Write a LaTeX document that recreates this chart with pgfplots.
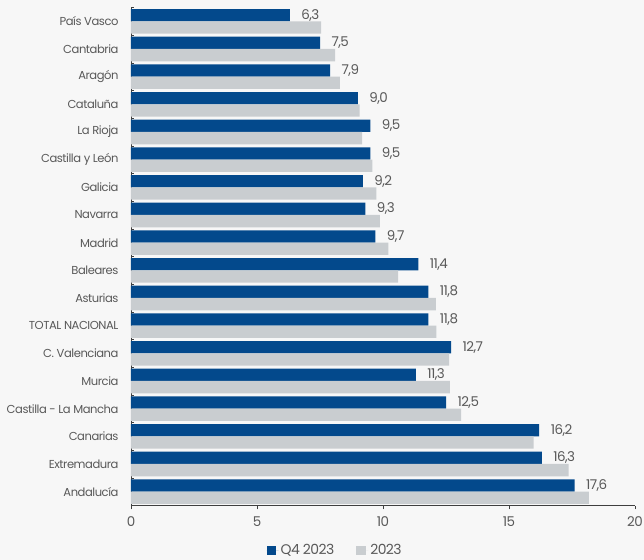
\documentclass[border=0pt]{standalone}
\usepackage{pgfplots}
\usepackage{pgfplotstable}
\pgfplotsset{compat=1.18}
\usepackage{fontspec}
\setmainfont{Poppins}[LetterSpace=-4]
\definecolor{bgc}{HTML}{F7F7F7}
\definecolor{q4}{HTML}{03498C}
\definecolor{yr}{HTML}{C9CDD0}
\definecolor{txt}{HTML}{595959}
\definecolor{axc}{HTML}{3F3F3F}

% idx 0 = bottom (Andalucia), 17 = top (Pais Vasco)
\pgfplotstableread{
idx q4   y23
0   17.6 18.17
1   16.3 17.37
2   16.2 15.98
3   12.5 13.10
4   11.3 12.65
5   12.7 12.62
6   11.8 12.12
7   11.8 12.10
8   11.4 10.60
9   9.7  10.21
10  9.3  9.88
11  9.2  9.74
12  9.5  9.58
13  9.5  9.17
14  9.0  9.07
15  7.9  8.29
16  7.5  8.10
17  6.3  7.54
}\datatable

\begin{document}
\begin{tikzpicture}
\fill[bgc] (-131bp,-54.5bp) rectangle (513bp,505.5bp);
\path[use as bounding box] (-131bp,-54.5bp) rectangle (513bp,505.5bp);
\begin{axis}[
  at={(0,0)}, anchor=south west,
  scale only axis, width=504bp, height=498bp,
  xbar, bar width=0.445,
  xmin=0, xmax=20, ymin=-0.5, ymax=17.5,
  axis x line=bottom, axis y line=left,
  axis line style={axc, -, line width=0.8bp},
  tick align=outside, major tick length=4bp,
  minor tick length=-3bp,
  xtick={0,5,10,15,20},
  ytick={0,...,17},
  yticklabels={Andalucía, Extremadura, Canarias, Castilla - La Mancha, Murcia,
    C. Valenciana, TOTAL NACIONAL, Asturias, Baleares, Madrid, Navarra, Galicia,
    Castilla y León, La Rioja, Cataluña, Aragón, Cantabria, País Vasco},
  minor ytick={-0.5,0.5,...,17.5},
  major y tick style={draw=none},
  minor y tick style={draw=axc, line width=0.6bp},
  xtick style={draw=axc, line width=0.6bp},
  tick label style={font=\fontsize{13.5}{15}\selectfont, text=txt},
  yticklabel style={xshift=-5bp, font=\fontsize{11.6}{13}\selectfont},
  xticklabel style={yshift=-4bp},
  /pgf/number format/.cd, use comma, assume math mode=true,
  /pgfplots/.cd,
  legend style={at={(0.405,-0.0894)}, anchor=center, draw=none, fill=none,
    legend columns=2, font=\fontsize{14}{16}\selectfont, text=txt,
    /tikz/every even column/.append style={column sep=20bp}},
  legend image code/.code={\fill[#1] (0bp,-4.5bp) rectangle (9.5bp,4.5bp);
    \path (0bp,0bp) -- (12bp,0bp);},
]
\addplot[fill=q4, draw=none, bar shift=0.2225,
  point meta=x, nodes near coords,
  nodes near coords style={anchor=west, xshift=8bp, text=txt,
    font=\fontsize{13.5}{15}\selectfont,
    /pgf/number format/.cd, fixed, fixed zerofill, precision=1, use comma, assume math mode=true}]
  table[x=q4, y=idx] {\datatable};
\addplot[fill=yr, draw=none, bar shift=-0.2225]
  table[x=y23, y=idx] {\datatable};
\legend{Q4 2023, 2023}
\end{axis}
\end{tikzpicture}
\end{document}
